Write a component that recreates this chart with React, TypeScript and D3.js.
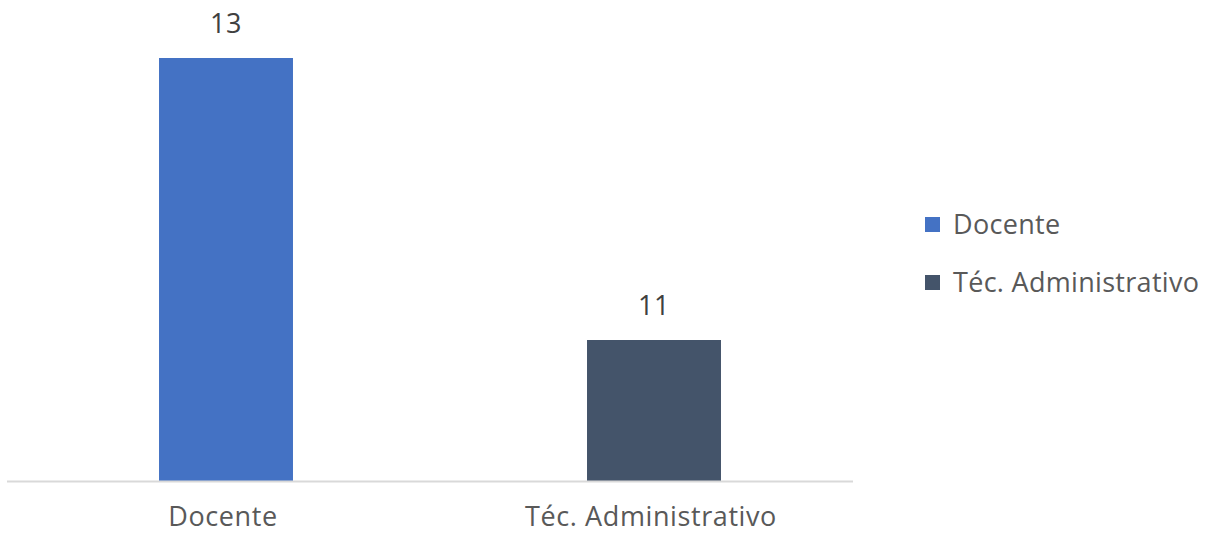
import React, { useEffect, useRef } from 'react';
import * as d3 from 'd3';

const categories = ['Docente', 'Téc. Administrativo'];
const values = [13, 11];
const colors = ['#4472C4', '#44546A'];

const width = 1206;
const height = 534;

const App: React.FC = () => {
    const svgRef = useRef<SVGSVGElement>(null);

    useEffect(() => {
        if (!svgRef.current) return;
        const svg = d3.select(svgRef.current);
        svg.selectAll('*').remove();

        const font = "'Open Sans', sans-serif";
        const fontSize = 27;
        const spacing = 0.6;

        // x band per category, bar takes a fraction of the band
        const x = d3.scaleBand<string>()
            .domain(categories)
            .range([12, 868])
            .padding(0);
        const barW = x.bandwidth() * 0.313;

        // value axis starts at 10, as in the original
        const y = d3.scaleLinear().domain([10, 13]).range([481, 58]);

        const g = svg.append('g');

        g.selectAll('rect.bar')
            .data(categories)
            .join('rect')
            .attr('class', 'bar')
            .attr('x', (d) => (x(d) || 0) + x.bandwidth() / 2 - barW / 2)
            .attr('y', (d, i) => y(values[i]))
            .attr('width', barW)
            .attr('height', (d, i) => y(10) - y(values[i]))
            .attr('fill', (d, i) => colors[i]);

        // baseline
        g.append('line')
            .attr('x1', 7)
            .attr('x2', 853)
            .attr('y1', y(10) + 0.5)
            .attr('y2', y(10) + 0.5)
            .attr('stroke', '#d9d9d9')
            .attr('stroke-width', 2);

        // value labels
        g.selectAll('text.val')
            .data(categories)
            .join('text')
            .attr('class', 'val')
            .attr('x', (d) => (x(d) || 0) + x.bandwidth() / 2)
            .attr('y', (d, i) => y(values[i]) - 25)
            .attr('text-anchor', 'middle')
            .attr('font-family', font)
            .attr('font-size', fontSize)
            .attr('letter-spacing', spacing)
            .attr('fill', '#404040')
            .text((d, i) => values[i]);

        // category labels
        g.selectAll('text.cat')
            .data(categories)
            .join('text')
            .attr('class', 'cat')
            .attr('x', (d) => (x(d) || 0) + x.bandwidth() / 2 - 3)
            .attr('y', 526)
            .attr('text-anchor', 'middle')
            .attr('font-family', font)
            .attr('font-size', fontSize)
            .attr('letter-spacing', spacing)
            .attr('fill', '#595959')
            .text((d) => d);

        // legend
        const legend = g.selectAll('g.leg')
            .data(categories)
            .join('g')
            .attr('class', 'leg')
            .attr('transform', (d, i) => `translate(925,${217 + i * 58})`);

        legend.append('rect')
            .attr('width', 15)
            .attr('height', 15)
            .attr('fill', (d, i) => colors[i]);

        legend.append('text')
            .attr('x', 28)
            .attr('y', 17)
            .attr('font-family', font)
            .attr('font-size', fontSize)
            .attr('letter-spacing', 0.3)
            .attr('fill', '#595959')
            .text((d) => d);
    }, []);

    return (
        <svg
            ref={svgRef}
            width={width}
            height={height}
            style={{ position: 'absolute', left: 0, top: 0, background: '#fff' }}
        />
    );
};

export default App;
